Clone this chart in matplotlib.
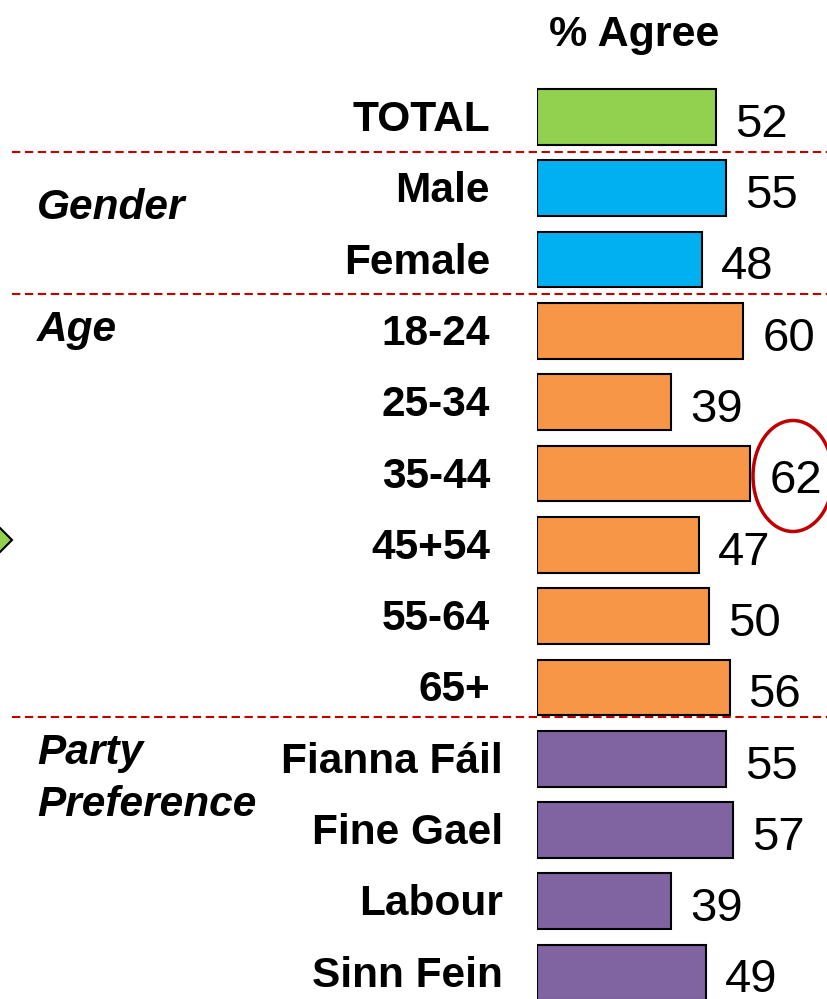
import matplotlib.pyplot as plt
from matplotlib.patches import Ellipse, Polygon
from matplotlib.lines import Line2D

plt.rcParams['font.family'] = ['Liberation Sans', 'DejaVu Sans']

labels = ["TOTAL", "Male", "Female", "18-24", "25-34", "35-44", "45+54",
          "55-64", "65+", "Fianna Fáil", "Fine Gael", "Labour", "Sinn Fein"]
values = [52, 55, 48, 60, 39, 62, 47, 50, 56, 55, 57, 39, 49]
groups = ["total", "gender", "gender", "age", "age", "age", "age",
          "age", "age", "party", "party", "party", "party"]
colors = {"total": "#92D050", "gender": "#00B0F0",
          "age": "#F79646", "party": "#8064A2"}

W, H = 828, 999
fig = plt.figure(figsize=(W / 100, H / 100), dpi=100)

# axes covers bar area: x starts at pixel 537, 3.44 px per percent
ax = fig.add_axes([537 / W, 0, 1 - 537 / W, 1])
row0, step = 117, 71.3
ax.set_xlim(0, (W - 537) / 3.44)
ax.set_ylim((H - row0) / step, -row0 / step)
ax.axis("off")

ypos = list(range(len(labels)))
ax.barh(ypos, values, height=0.78,
        color=[colors[g] for g in groups],
        edgecolor="black", linewidth=1.5)

for y, v, g in zip(ypos, values, groups):
    ax.text(v + 5.5, y + 0.11, str(v), fontsize=34, va="center", ha="left")

# category labels
for y, lab, g in zip(ypos, labels, groups):
    xr = 503 if g == "party" else 490
    fig.text(xr / W, 1 - (row0 + step * y + 3) / H, lab, fontsize=30.5,
             fontweight="bold", ha="right", va="center")

fig.text(634 / W, 1 - 35 / H, "% Agree", fontsize=31, fontweight="bold",
         ha="center", va="center")

# group labels
for txt, yy in [("Gender", 208), ("Age", 330), ("Party", 753),
                ("Preference", 805)]:
    fig.text(37 / W, 1 - yy / H, txt, fontsize=30.5, fontweight="bold",
             fontstyle="italic", ha="left", va="center")

# dashed separators
for yy in [152, 294, 717]:
    fig.add_artist(Line2D([12 / W, 1], [1 - yy / H, 1 - yy / H],
                          color="#C00000", linewidth=1.5,
                          linestyle=(0, (4, 2.2))))

# highlight circle around 35-44 value
fig.add_artist(Ellipse((793 / W, 1 - 476 / H), 80 / W, 111 / H,
                       transform=fig.transFigure, fill=False,
                       edgecolor="#C00000", linewidth=2.5))

# arrow tip at left edge
fig.add_artist(Polygon([(-14 / W, 1 - 540 / H), (-1 / W, 1 - 527 / H),
                        (12 / W, 1 - 540 / H), (-1 / W, 1 - 553 / H)],
                       closed=True, transform=fig.transFigure,
                       facecolor="#92D050", edgecolor="black", linewidth=1.5))

plt.savefig("out.png", dpi=100)
